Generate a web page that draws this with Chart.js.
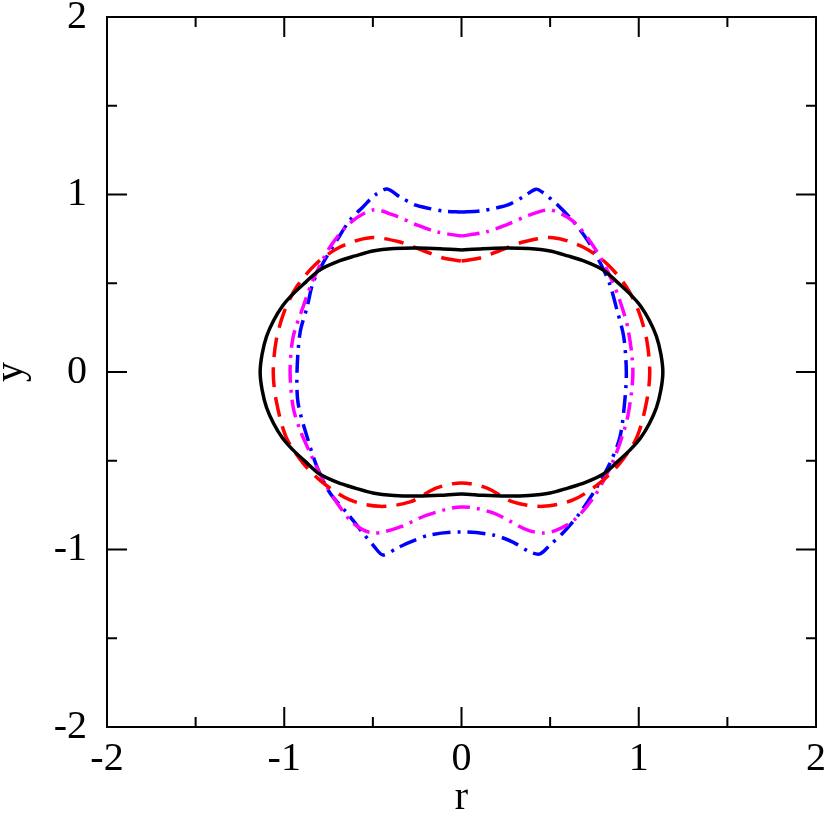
<!DOCTYPE html>
<html>
<head>
<meta charset="UTF-8">
<title>r-y contours</title>
<script src="https://cdn.jsdelivr.net/npm/chart.js"></script>
<style>
  body { margin: 0; background: #fff; }
  #wrap { width: 830px; height: 819px; }
</style>
</head>
<body>
<div id="wrap"><canvas id="shapes"></canvas></div>
<script>
// contour points, clockwise from the top centre
const blackX = [0, 0.12, 0.25, 0.38, 0.5, 0.6, 0.7, 0.8, 0.88, 0.95, 1.01, 1.06, 1.1, 1.125, 1.136, 1.125, 1.1, 1.06, 1.01, 0.95, 0.88, 0.8, 0.7, 0.6, 0.5, 0.38, 0.25, 0.12, 0, -0.12, -0.25, -0.38, -0.5, -0.6, -0.7, -0.8, -0.88, -0.95, -1.01, -1.06, -1.1, -1.125, -1.136, -1.125, -1.1, -1.06, -1.01, -0.95, -0.88, -0.8, -0.7, -0.6, -0.5, -0.38, -0.25, -0.12, 0];
const blackY = [0.687, 0.695, 0.699, 0.696, 0.682, 0.654, 0.622, 0.575, 0.505, 0.44, 0.372, 0.29, 0.2, 0.1, 0, -0.1, -0.2, -0.29, -0.372, -0.44, -0.505, -0.575, -0.622, -0.654, -0.682, -0.696, -0.699, -0.695, -0.687, -0.695, -0.699, -0.696, -0.682, -0.654, -0.622, -0.575, -0.505, -0.44, -0.372, -0.29, -0.2, -0.1, 0, 0.1, 0.2, 0.29, 0.372, 0.44, 0.505, 0.575, 0.622, 0.654, 0.682, 0.696, 0.699, 0.695, 0.687];

const redX = [0, 0.104, 0.195, 0.347, 0.516, 0.685, 0.82, 0.93, 1.0, 1.045, 1.062, 1.046, 0.99, 0.894, 0.781, 0.629, 0.46, 0.29, 0.144, 0, -0.144, -0.29, -0.46, -0.629, -0.781, -0.894, -0.99, -1.046, -1.062, -1.045, -1.0, -0.93, -0.82, -0.685, -0.516, -0.347, -0.195, -0.104, 0];
const redY = [0.625, 0.642, 0.676, 0.732, 0.757, 0.704, 0.61, 0.48, 0.34, 0.18, 0, -0.158, -0.366, -0.513, -0.625, -0.721, -0.757, -0.732, -0.654, -0.625, -0.654, -0.732, -0.757, -0.721, -0.625, -0.513, -0.366, -0.158, 0, 0.18, 0.34, 0.48, 0.61, 0.704, 0.757, 0.732, 0.676, 0.642, 0.625];

const magentaX = [0, 0.138, 0.251, 0.386, 0.5, 0.629, 0.75, 0.838, 0.894, 0.94, 0.967, 0.94, 0.894, 0.838, 0.75, 0.64, 0.539, 0.46, 0.37, 0.178, 0, -0.195, -0.347, -0.5, -0.612, -0.702, -0.781, -0.854, -0.911, -0.95, -0.967, -0.95, -0.894, -0.838, -0.742, -0.629, -0.5, -0.386, -0.251, -0.138, 0];
const magentaY = [0.766, 0.789, 0.828, 0.885, 0.913, 0.85, 0.7, 0.54, 0.4, 0.24, 0, -0.24, -0.4, -0.54, -0.7, -0.83, -0.89, -0.907, -0.89, -0.794, -0.76, -0.806, -0.873, -0.907, -0.851, -0.738, -0.608, -0.456, -0.327, -0.197, 0, 0.197, 0.366, 0.518, 0.704, 0.839, 0.913, 0.885, 0.828, 0.789, 0.766];

const blueX = [0, 0.104, 0.195, 0.262, 0.347, 0.42, 0.46, 0.544, 0.629, 0.712, 0.79, 0.838, 0.877, 0.915, 0.93, 0.92, 0.894, 0.838, 0.764, 0.668, 0.572, 0.499, 0.443, 0.386, 0.29, 0.178, 0, -0.178, -0.29, -0.364, -0.443, -0.499, -0.556, -0.646, -0.742, -0.815, -0.871, -0.922, -0.928, -0.911, -0.871, -0.838, -0.781, -0.702, -0.629, -0.556, -0.488, -0.42, -0.347, -0.262, -0.195, -0.104, 0];
const blueY = [0.901, 0.907, 0.924, 0.941, 0.986, 1.03, 1.01, 0.94, 0.85, 0.74, 0.6, 0.49, 0.35, 0.2, 0, -0.175, -0.366, -0.513, -0.648, -0.794, -0.907, -0.975, -1.025, -1.014, -0.958, -0.918, -0.901, -0.918, -0.958, -0.992, -1.031, -0.975, -0.907, -0.794, -0.682, -0.535, -0.366, -0.175, 0, 0.22, 0.366, 0.501, 0.614, 0.744, 0.856, 0.93, 0.997, 1.031, 0.986, 0.941, 0.924, 0.907, 0.901];

const axisMin = -2;
const axisMax = 2;
const tickLabels = ['-2', '-1', '0', '1', '2'];

function pts(xs, ys) {
    return xs.map((x, i) => ({ x: x, y: ys[i] }));
}

function curve(xs, ys, color, dash) {
    return {
        data: pts(xs, ys),
        borderColor: color,
        borderWidth: 3.5,
        borderDash: dash,
        pointRadius: 0,
        showLine: true,
        fill: false,
        tension: 0.3
    };
}

// ticks drawn inward on all four sides, plus the frame
const frameTicks = {
    id: 'frameTicks',
    afterDraw(chart) {
        const { ctx, chartArea: a, scales } = chart;
        ctx.save();
        ctx.strokeStyle = '#000';
        ctx.lineWidth = 2;
        ctx.strokeRect(a.left, a.top, a.right - a.left, a.bottom - a.top);
        ctx.beginPath();
        scales.x.ticks.forEach(t => {
            const px = scales.x.getPixelForValue(t.value);
            const len = Number.isInteger(t.value) ? 20 : 10;
            ctx.moveTo(px, a.bottom); ctx.lineTo(px, a.bottom - len);
            ctx.moveTo(px, a.top); ctx.lineTo(px, a.top + len);
        });
        scales.y.ticks.forEach(t => {
            const py = scales.y.getPixelForValue(t.value);
            const len = Number.isInteger(t.value) ? 20 : 10;
            ctx.moveTo(a.left, py); ctx.lineTo(a.left + len, py);
            ctx.moveTo(a.right, py); ctx.lineTo(a.right - len, py);
        });
        ctx.stroke();
        ctx.restore();
    }
};

const serif = { family: "'Times New Roman', 'Liberation Serif', Times, serif", size: 40 };

function tickText(v) {
    return Number.isInteger(v) ? tickLabels[v - axisMin] : '';
}

new Chart(document.getElementById('shapes'), {
    type: 'scatter',
    data: {
        datasets: [
            curve(blackX, blackY, '#000000', []),
            curve(redX, redY, '#ff0000', [20, 10]),
            curve(magentaX, magentaY, '#ff00ff', [18, 7, 3, 7]),
            curve(blueX, blueY, '#0000ff', [18, 7, 3, 7])
        ]
    },
    options: {
        responsive: true,
        maintainAspectRatio: false,
        animation: false,
        layout: { padding: { top: 17, right: 14, left: 0, bottom: 0 } },
        plugins: { legend: { display: false }, tooltip: { enabled: false } },
        scales: {
            x: {
                type: 'linear',
                min: axisMin,
                max: axisMax,
                afterFit(s) { s.height = 92; s.paddingLeft = 0; s.paddingRight = 0; },
                grid: { display: false, drawTicks: false },
                border: { display: false },
                ticks: { stepSize: 0.5, autoSkip: false, maxRotation: 0, padding: 8, color: '#000', font: serif, callback: tickText },
                title: { display: true, text: 'r', color: '#000', font: serif, padding: { top: 0, bottom: -3 } }
            },
            y: {
                type: 'linear',
                min: axisMin,
                max: axisMax,
                afterFit(s) { s.width = 107; s.paddingTop = 0; s.paddingBottom = 0; },
                grid: { display: false, drawTicks: false },
                border: { display: false },
                ticks: { stepSize: 0.5, autoSkip: false, padding: 20, color: '#000', font: serif, callback: tickText },
                title: { display: true, text: 'y', color: '#000', font: serif, padding: { top: -13, bottom: 0 } }
            }
        }
    },
    plugins: [frameTicks]
});
</script>
</body>
</html>
